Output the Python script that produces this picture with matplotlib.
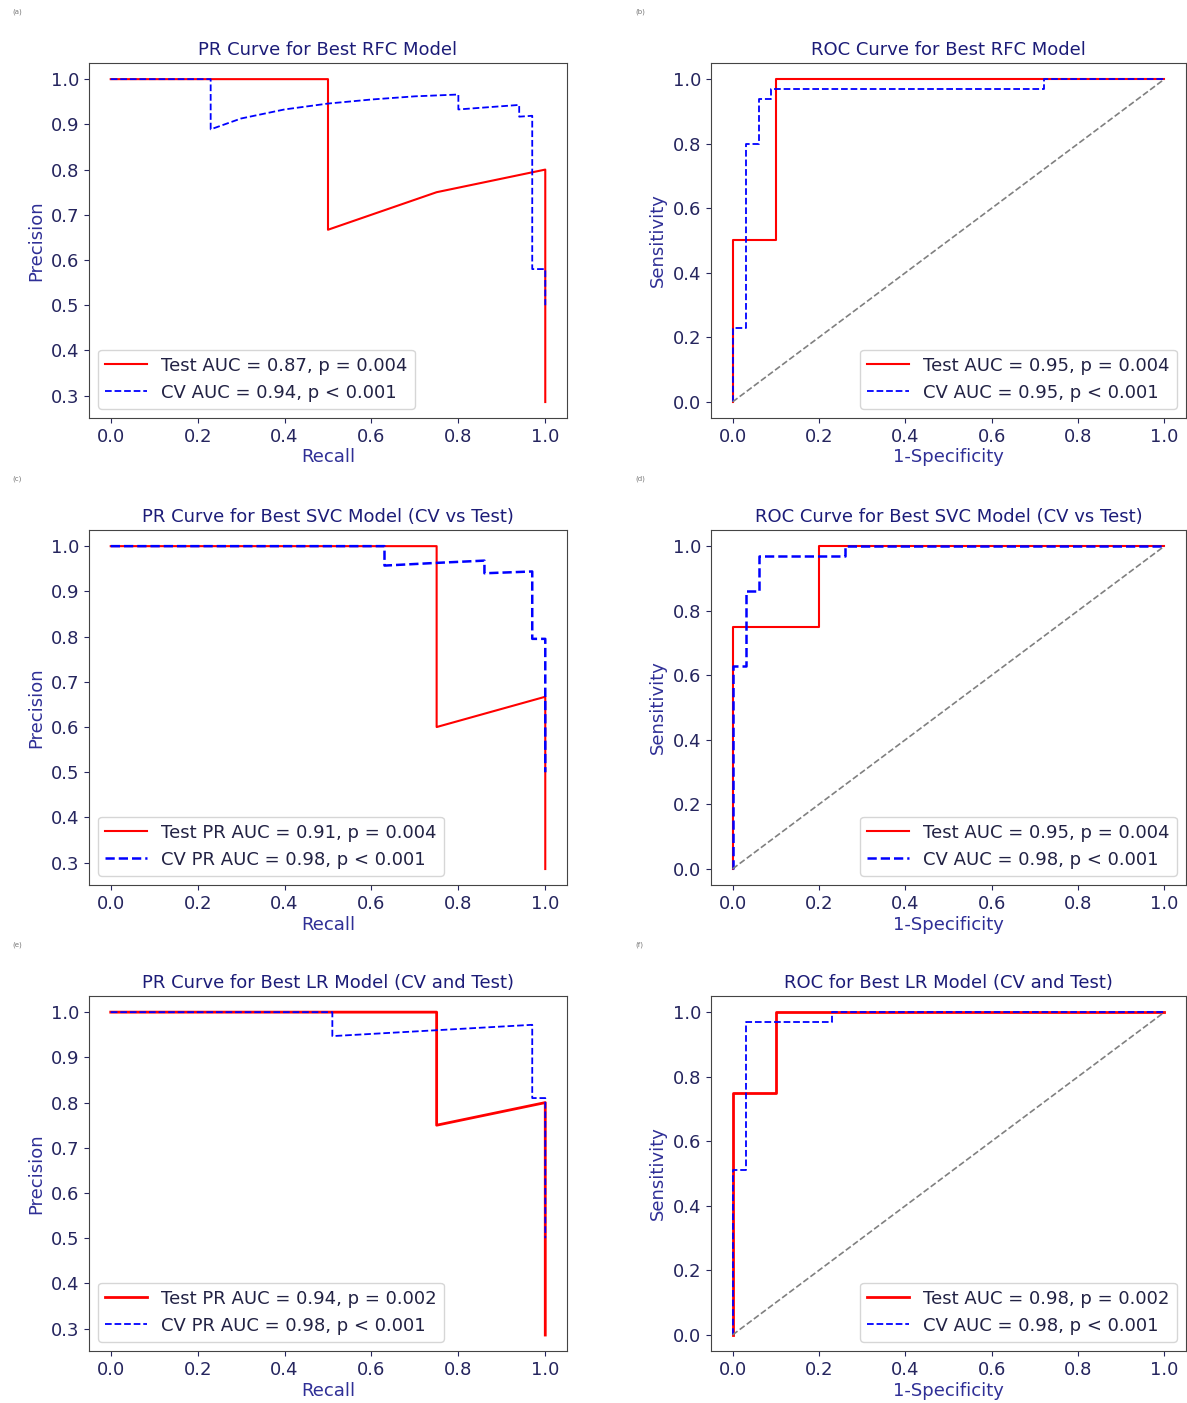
import matplotlib
matplotlib.use("Agg")
import matplotlib.pyplot as plt

# ---------------- data ----------------
# Panel A: PR RFC
rfc_pr_test_recall = [0.0, 0.5, 0.5, 0.75, 1.0, 1.0]
rfc_pr_test_prec = [1.0, 1.0, 0.667, 0.75, 0.80, 0.286]
rfc_pr_cv_recall = [0.0, 0.23, 0.23, 0.30, 0.40, 0.50, 0.60, 0.70, 0.80, 0.80, 0.94, 0.94, 0.97, 0.97, 1.0, 1.0]
rfc_pr_cv_prec = [1.0, 1.0, 0.889, 0.913, 0.933, 0.946, 0.955, 0.962, 0.966, 0.933, 0.943, 0.917, 0.919, 0.58, 0.58, 0.50]

# Panel B: ROC RFC
rfc_roc_test_fpr = [0.0, 0.0, 0.1, 0.1, 1.0]
rfc_roc_test_tpr = [0.0, 0.5, 0.5, 1.0, 1.0]
rfc_roc_cv_fpr = [0.0, 0.0, 0.03, 0.03, 0.06, 0.06, 0.09, 0.09, 0.72, 0.72, 1.0]
rfc_roc_cv_tpr = [0.0, 0.23, 0.23, 0.80, 0.80, 0.94, 0.94, 0.97, 0.97, 1.0, 1.0]

# Panel C: PR SVC
svc_pr_test_recall = [0.0, 0.75, 0.75, 1.0, 1.0]
svc_pr_test_prec = [1.0, 1.0, 0.60, 0.667, 0.286]
svc_pr_cv_recall = [0.0, 0.63, 0.63, 0.75, 0.86, 0.86, 0.97, 0.97, 1.0, 1.0]
svc_pr_cv_prec = [1.0, 1.0, 0.957, 0.963, 0.968, 0.94, 0.944, 0.795, 0.795, 0.50]

# Panel D: ROC SVC
svc_roc_test_fpr = [0.0, 0.0, 0.2, 0.2, 1.0]
svc_roc_test_tpr = [0.0, 0.75, 0.75, 1.0, 1.0]
svc_roc_cv_fpr = [0.0, 0.0, 0.03, 0.03, 0.06, 0.06, 0.26, 0.26, 1.0]
svc_roc_cv_tpr = [0.0, 0.63, 0.63, 0.86, 0.86, 0.97, 0.97, 1.0, 1.0]

# Panel E: PR LR
lr_pr_test_recall = [0.0, 0.75, 0.75, 1.0, 1.0]
lr_pr_test_prec = [1.0, 1.0, 0.75, 0.80, 0.286]
lr_pr_cv_recall = [0.0, 0.51, 0.51, 0.97, 0.97, 1.0, 1.0]
lr_pr_cv_prec = [1.0, 1.0, 0.947, 0.972, 0.81, 0.81, 0.50]

# Panel F: ROC LR
lr_roc_test_fpr = [0.0, 0.0, 0.1, 0.1, 1.0]
lr_roc_test_tpr = [0.0, 0.75, 0.75, 1.0, 1.0]
lr_roc_cv_fpr = [0.0, 0.0, 0.03, 0.03, 0.23, 0.23, 1.0]
lr_roc_cv_tpr = [0.0, 0.51, 0.51, 0.97, 0.97, 1.0, 1.0]

titles = [
    "PR Curve for Best RFC Model", "ROC Curve for Best RFC Model",
    "PR Curve for Best SVC Model (CV vs Test)", "ROC Curve for Best SVC Model (CV vs Test)",
    "PR Curve for Best LR Model (CV and Test)", "ROC for Best LR Model (CV and Test)",
]
test_labels = [
    "Test AUC = 0.87, p = 0.004", "Test AUC = 0.95, p = 0.004",
    "Test PR AUC = 0.91, p = 0.004", "Test AUC = 0.95, p = 0.004",
    "Test PR AUC = 0.94, p = 0.002", "Test AUC = 0.98, p = 0.002",
]
cv_labels = [
    "CV AUC = 0.94, p < 0.001", "CV AUC = 0.95, p < 0.001",
    "CV PR AUC = 0.98, p < 0.001", "CV AUC = 0.98, p < 0.001",
    "CV PR AUC = 0.98, p < 0.001", "CV AUC = 0.98, p < 0.001",
]
panel_tags = ["(a)", "(b)", "(c)", "(d)", "(e)", "(f)"]

curves = [
    (rfc_pr_test_recall, rfc_pr_test_prec, rfc_pr_cv_recall, rfc_pr_cv_prec),
    (rfc_roc_test_fpr, rfc_roc_test_tpr, rfc_roc_cv_fpr, rfc_roc_cv_tpr),
    (svc_pr_test_recall, svc_pr_test_prec, svc_pr_cv_recall, svc_pr_cv_prec),
    (svc_roc_test_fpr, svc_roc_test_tpr, svc_roc_cv_fpr, svc_roc_cv_tpr),
    (lr_pr_test_recall, lr_pr_test_prec, lr_pr_cv_recall, lr_pr_cv_prec),
    (lr_roc_test_fpr, lr_roc_test_tpr, lr_roc_cv_fpr, lr_roc_cv_tpr),
]
test_lw = [1.5, 1.5, 1.5, 1.5, 2.0, 2.0]
cv_lw = [1.3, 1.3, 1.8, 1.8, 1.3, 1.3]

# ---------------- figure ----------------
W, H = 1187, 1403
fig = plt.figure(figsize=(W / 100, H / 100), dpi=100)

TITLE_C = "#1c1c78"
LABEL_C = "#2f2f96"
TICK_C = "#25255e"

row_tops = [63, 530, 996]
ax_h = 355
col_lefts = [89, 711]
col_w = [478, 475]

for i in range(6):
    r, c = divmod(i, 2)
    left = col_lefts[c] / W
    bottom = 1 - (row_tops[r] + ax_h) / H
    ax = fig.add_axes([left, bottom, col_w[c] / W, ax_h / H])
    tx, ty, cx, cy = curves[i]
    ax.plot(tx, ty, color="red", lw=test_lw[i], label=test_labels[i])
    ax.plot(cx, cy, color="blue", lw=cv_lw[i], ls="--", label=cv_labels[i])
    if c == 1:
        ax.plot([0, 1], [0, 1], color="gray", lw=1.2, ls="--")
        ax.set_xlabel("1-Specificity", fontsize=13, color=LABEL_C, labelpad=2)
        ax.set_ylabel("Sensitivity", fontsize=13, color=LABEL_C)
        ax.set_ylim(-0.05, 1.05)
        ax.set_yticks([0.0, 0.2, 0.4, 0.6, 0.8, 1.0])
        loc = "lower right"
    else:
        ax.set_xlabel("Recall", fontsize=13, color=LABEL_C, labelpad=2)
        ax.set_ylabel("Precision", fontsize=13, color=LABEL_C)
        ax.set_ylim(0.2507, 1.0357)
        ax.set_yticks([0.3, 0.4, 0.5, 0.6, 0.7, 0.8, 0.9, 1.0])
        loc = "lower left"
    ax.set_xlim(-0.05, 1.05)
    ax.set_xticks([0.0, 0.2, 0.4, 0.6, 0.8, 1.0])
    ax.set_title(titles[i], fontsize=13, color=TITLE_C)
    ax.tick_params(labelsize=13, colors=TICK_C, labelcolor=TICK_C)
    for s in ax.spines.values():
        s.set_color("#444444")
    ax.legend(loc=loc, fontsize=13, labelcolor="#222244", handlelength=2.3)
    tag_x = 12 / W if c == 0 else 635 / W
    tag_y = 1 - (row_tops[r] - 51) / H
    fig.text(tag_x, tag_y, panel_tags[i], fontsize=5, color="#777777", va="center")

fig.savefig("out.png", dpi=100)
